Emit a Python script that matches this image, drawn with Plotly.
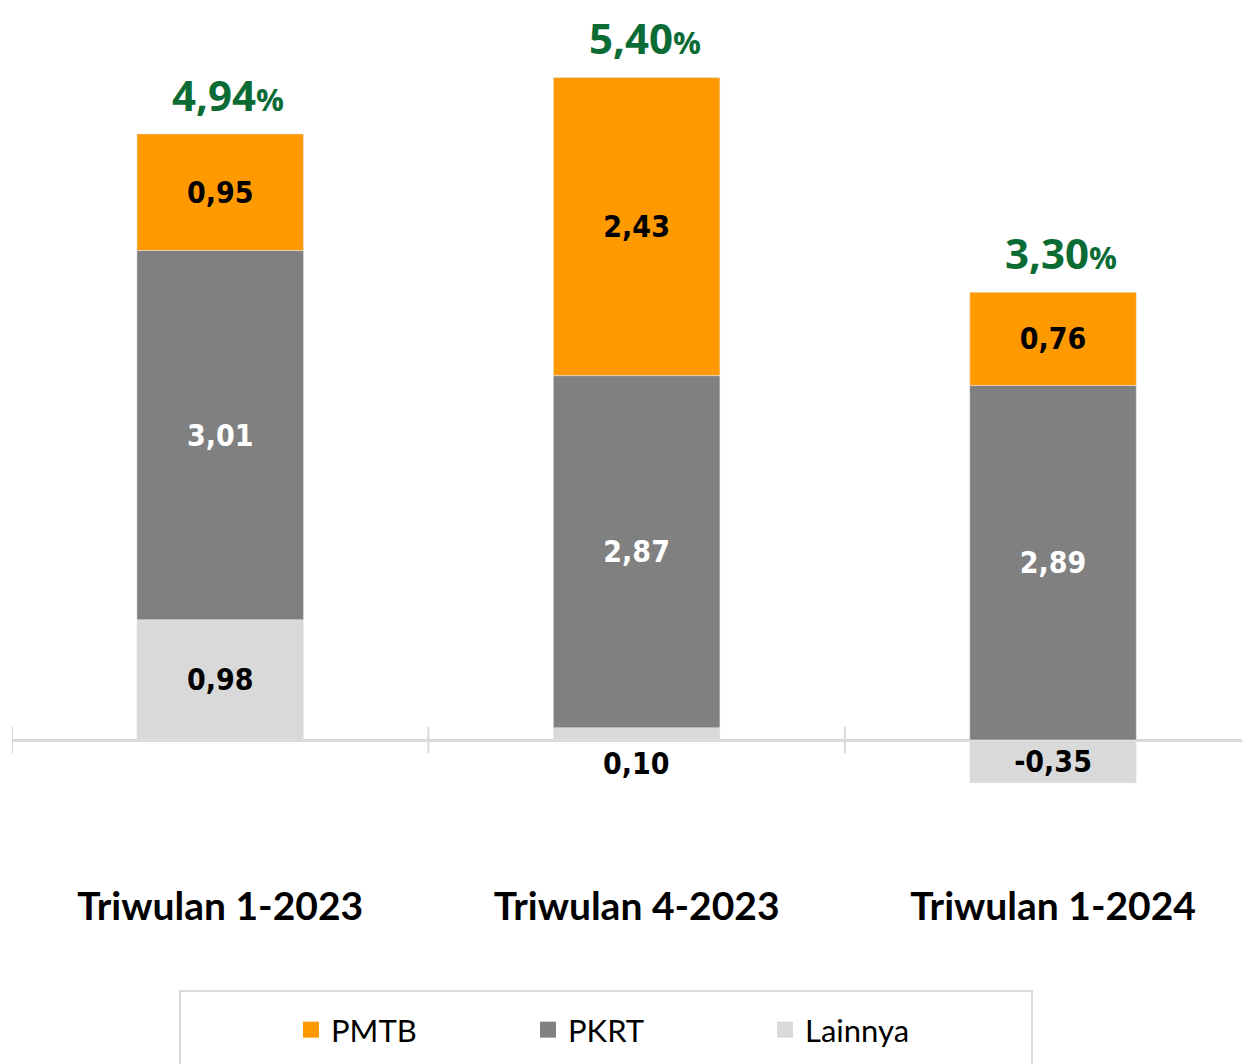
import plotly.graph_objects as go

categories = ["Triwulan 1-2023", "Triwulan 4-2023", "Triwulan 1-2024"]
pmtb = [0.95, 2.43, 0.76]
pkrt = [3.01, 2.87, 2.89]
lainnya = [0.98, 0.10, -0.35]
totals = [4.94, 5.40, 3.30]

C_PMTB = "#FF9900"
C_PKRT = "#808080"
C_LAIN = "#D9D9D9"
GREEN = "#0B6B35"
NUM_FONT = "DejaVu Sans Condensed, DejaVu Sans, sans-serif"
TXT_FONT = "Lato, Open Sans, sans-serif"

# page body has an 8px margin: compensate so the figure fills the window
W, H = 1242, 1056
ML, MR, MT, MB = 4, 0, 2, 184
plot_h = H - MT - MB
plot_w = W - ML - MR
ymin, ymax = -1.141, 5.95

def page_y(py):
    return (H - MB - (py - 8)) / plot_h

def page_x(px):
    return (px - 8 - ML) / plot_w

num_font = lambda col: dict(family=NUM_FONT, size=30, color=col, weight="bold")

fig = go.Figure()

lain_pos = ["none" if 0 < v < 0.2 else "inside" for v in lainnya]
fig.add_trace(go.Bar(x=categories, y=lainnya, name="Lainnya", marker_color=C_LAIN,
                     texttemplate="%{y:.2f}", textposition=lain_pos, insidetextanchor="middle",
                     textfont=num_font("black"), showlegend=False, width=0.4))
fig.add_trace(go.Bar(x=categories, y=pkrt, name="PKRT", marker_color=C_PKRT,
                     texttemplate="%{y:.2f}", textposition="inside", insidetextanchor="middle",
                     textfont=num_font("white"), showlegend=False, width=0.4))
fig.add_trace(go.Bar(x=categories, y=pmtb, name="PMTB", marker_color=C_PMTB,
                     texttemplate="%{y:.2f}", textposition="inside", insidetextanchor="middle",
                     textfont=num_font("black"), showlegend=False, width=0.4))

for name, col in [("PMTB", C_PMTB), ("PKRT", C_PKRT), ("Lainnya", C_LAIN)]:
    fig.add_trace(go.Scatter(x=[None], y=[None], mode="markers", name=name,
                             marker=dict(symbol="square", size=22, color=col)))

annotations = []
for i, (c, t) in enumerate(zip(categories, totals)):
    top = sum(v for v in (pmtb[i], pkrt[i], lainnya[i]) if v > 0)
    txt = ("<b>" + f"{t:.2f}".replace(".", ",") + "</b>"
           + "<span style='font-size:31px'><b>%</b></span>")
    annotations.append(dict(x=c, y=top, xref="x", yref="y", text=txt, showarrow=False,
                            yanchor="bottom", xshift=8, yshift=9,
                            font=dict(family="Open Sans, sans-serif", size=42, color=GREEN,
                                      weight="bold")))
for i, (c, v) in enumerate(zip(categories, lainnya)):
    if lain_pos[i] == "none":
        annotations.append(dict(x=c, y=0, xref="x", yref="y",
                                text=f"{v:.2f}".replace(".", ","),
                                showarrow=False, yanchor="top", yshift=-4,
                                font=num_font("black")))

shapes = []
for xb in [-0.5, 0.5, 1.5]:
    shapes.append(dict(type="line", xref="x", yref="y", x0=xb, x1=xb, y0=-0.11, y1=0.11,
                       line=dict(color=C_LAIN, width=2), layer="below"))
shapes.append(dict(type="rect", xref="paper", yref="paper",
                   x0=page_x(180), x1=page_x(1032), y0=page_y(1080), y1=page_y(991),
                   line=dict(color=C_LAIN, width=2), fillcolor="rgba(0,0,0,0)"))

fig.update_layout(
    width=W, height=H, barmode="relative", separators=",.",
    margin=dict(l=ML, r=MR, t=MT, b=MB),
    plot_bgcolor="white", paper_bgcolor="white",
    xaxis=dict(type="category", range=[-0.5, 2.473], showgrid=False, showline=False,
               ticks="", tickfont=dict(family=TXT_FONT, size=39, color="black", weight="bold")),
    yaxis=dict(range=[ymin, ymax], showgrid=False, showticklabels=False, showline=False,
               zeroline=True, zerolinecolor=C_LAIN, zerolinewidth=3),
    legend=dict(orientation="h", x=page_x(291), xanchor="left", y=page_y(1030),
                yanchor="middle", entrywidth=192, entrywidthmode="pixels",
                font=dict(family=TXT_FONT, size=31, color="black"), itemsizing="trace",
                bgcolor="rgba(0,0,0,0)"),
    uniformtext=dict(minsize=30, mode="show"),
    annotations=annotations, shapes=shapes,
)

fig.write_html("out.html")
